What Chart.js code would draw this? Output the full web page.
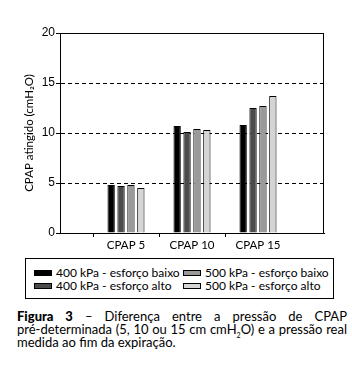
<!DOCTYPE html>
<html>
<head>
<meta charset="utf-8">
<script src="https://cdn.jsdelivr.net/npm/chart.js@4.4.0/dist/chart.umd.min.js"></script>
<style>
  html, body { margin: 0; padding: 0; background: #fff; }
  #wrap { position: relative; width: 352px; height: 370px; overflow: hidden; font-family: Lato, 'Open Sans', sans-serif; color: #000; }
  #chart-box { position: absolute; left: 0; top: 0; width: 352px; height: 255px; }
  #legenda {
    position: absolute; left: 25px; top: 258px; width: 309px; height: 41px;
    border: 1px solid #000; box-sizing: border-box;
    display: grid; grid-template-columns: 149px 150px; grid-template-rows: 13px 13px;
    padding: 7px 0 0 8px;
    font-size: 12px; line-height: 13px;
  }
  .leg-item { display: flex; align-items: center; white-space: nowrap; }
  .leg-sw { width: 18px; height: 6px; border: 1px solid #000; margin-right: 4px; box-sizing: border-box; }
  #legenda-caption {
    position: absolute; left: 17px; top: 310px; width: 330px;
    font-size: 13px; line-height: 13px;
  }
  #legenda-caption .ln { text-align: justify; text-align-last: justify; white-space: nowrap; }
  #legenda-caption .ln.ult { text-align-last: left; }
  #legenda-caption b { font-weight: 900; }
  sub { font-size: 7px; line-height: 0; }
</style>
</head>
<body>
<div id="wrap">
  <div id="chart-box"><canvas id="chart-cpap" width="352" height="255"></canvas></div>
  <div id="legenda"></div>
  <div id="legenda-caption">
    <div class="ln"><b>Figura 3</b> &ndash; Diferença entre a pressão de CPAP</div>
    <div class="ln">pré-determinada (5, 10 ou 15 cm cmH<sub>2</sub>O) e a pressão real</div>
    <div class="ln ult">medida ao fim da expiração.</div>
  </div>
</div>
<script>
/* ---------- dados ---------- */
const categorias = ['CPAP 5', 'CPAP 10', 'CPAP 15'];
const kpa400Baixo = [4.8, 10.7, 10.8];
const kpa400Alto  = [4.7, 10.1, 12.5];
const kpa500Baixo = [4.8, 10.4, 12.7];
const kpa500Alto  = [4.5, 10.3, 13.7];
const ticksY = [0, 5, 10, 15, 20];

const series = [
  { label: '400 kPa - esforço baixo', data: kpa400Baixo, cor: '#000000' },
  { label: '400 kPa - esforço alto',  data: kpa400Alto,  cor: '#4b4b4b' },
  { label: '500 kPa - esforço baixo', data: kpa500Baixo, cor: '#9a9a9a' },
  { label: '500 kPa - esforço alto',  data: kpa500Alto,  cor: '#d4d4d4' }
];

// eixo x vai de 0 a 4, categorias nas posições 1..3
const labels = ['', ...categorias, ''];

/* ---------- moldura (topo e direita sólidos) ---------- */
const moldura = {
  id: 'moldura',
  afterDatasetsDraw(chart) {
    const { ctx, chartArea: a } = chart;
    ctx.save();
    ctx.strokeStyle = '#000';
    ctx.lineWidth = 1;
    ctx.setLineDash([]);
    ctx.strokeRect(Math.round(a.left) + 0.5, Math.round(a.top) + 0.5,
      Math.round(a.right - a.left) - 1, Math.round(a.bottom - a.top));
    ctx.restore();
  }
};

new Chart(document.getElementById('chart-cpap'), {
  type: 'bar',
  data: {
    labels,
    datasets: series.map(s => ({
      label: s.label,
      data: [null, ...s.data, null],
      backgroundColor: s.cor,
      borderColor: '#000',
      borderWidth: 1,
      borderSkipped: 'bottom',
      categoryPercentage: 0.6,
      barPercentage: 0.74
    }))
  },
  options: {
    responsive: false, animation: false,
    layout: { padding: { top: 33, right: 28, left: 0, bottom: 0 } },
    plugins: { legend: { display: false }, tooltip: { enabled: false } },
    scales: {
      x: {
        offset: false,
        afterFit: (s) => { s.height = 22; },
        grid: {
          drawOnChartArea: false, tickLength: 4,
          color: (c) => (c.index === 0 || c.index === 4) ? 'rgba(0,0,0,0)' : '#000'
        },
        border: { color: '#000', width: 1 },
        ticks: { padding: 1, color: '#000', font: { family: 'Lato', size: 11.5 }, maxRotation: 0, autoSkip: false }
      },
      y: {
        min: 0, max: 20,
        afterFit: (s) => { s.width = 60; },
        afterBuildTicks: (s) => { s.ticks = ticksY.map(v => ({ value: v })); },
        grid: {
          tickLength: 4,
          color: (c) => (c.tick && (c.tick.value === 0 || c.tick.value === 20)) ? 'rgba(0,0,0,0)' : '#000',
          tickColor: '#000'
        },
        border: { color: '#000', width: 1, dash: [4, 3] },
        ticks: { padding: 1, color: '#000', font: { family: 'Liberation Sans', size: 12 } },
        title: {
          display: true, text: 'CPAP atingido (cmH₂O)', color: '#000',
          font: { family: 'Lato', size: 11.5 }, padding: { top: 22, bottom: 0 }
        }
      }
    }
  },
  plugins: [moldura]
});

/* ---------- legenda em HTML ---------- */
// 1ª linha: 400 baixo / 500 baixo; 2ª linha: 400 alto / 500 alto
const ordem = [0, 2, 1, 3];
document.getElementById('legenda').innerHTML = ordem.map(i => `
  <div class="leg-item"><span class="leg-sw" style="background:${series[i].cor}"></span>${series[i].label}</div>
`).join('');
</script>
</body>
</html>
